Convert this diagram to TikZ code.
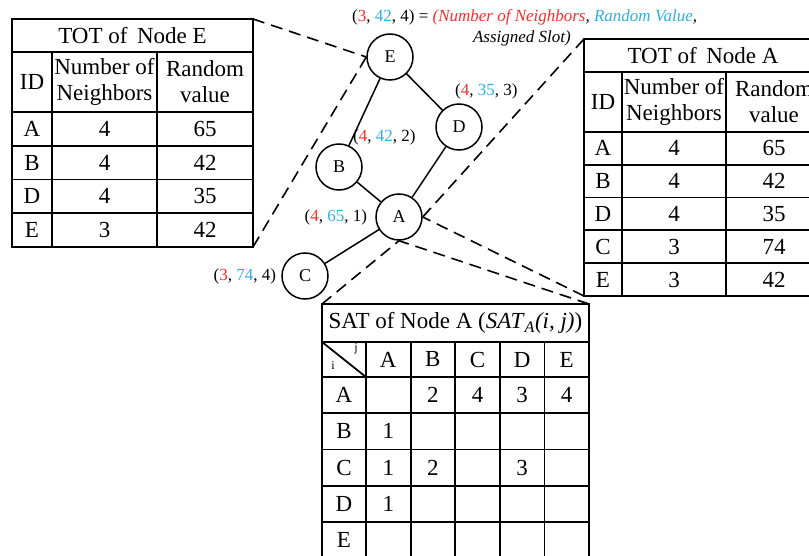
\documentclass[tikz,border=0pt]{standalone}
\usepackage{fontspec}
\setmainfont{Liberation Serif}
\definecolor{nbred}{HTML}{FF2B2B}
\definecolor{rvblue}{HTML}{2EAFE6}
\usetikzlibrary{positioning}
\newcommand{\nbval}[1]{\textcolor{nbred}{#1}}
\newcommand{\rvval}[1]{\textcolor{rvblue}{#1}}

\begin{document}
\begin{tikzpicture}[x=1pt, y=-1pt,
  grid/.style={line width=1.8pt},
  cell/.style={inner sep=0pt, align=center, font=\fontsize{23}{26}\selectfont},
  tiny cell/.style={inner sep=0pt, font=\fontsize{12}{14}\selectfont},
  vert/.style={circle, draw, line width=1.5pt, minimum size=46pt, inner sep=0pt,
               font=\fontsize{18}{20}\selectfont},
  tag/.style={inner sep=0pt, font=\fontsize{17}{20}\selectfont},
  link/.style={line width=1.5pt},
  zoomline/.style={line width=1.6pt, dash pattern=on 12pt off 7pt},
]
\useasboundingbox (0,0) rectangle (809,556);

% TOT of node E
\coordinate (te-ne) at (253,19);
\coordinate (te-se) at (253,247);
\draw[grid] (12,19) rectangle (te-se);
\foreach \y in {52,112,145.75,179.5,213.25} \draw[grid] (12,\y) -- (253,\y);
\foreach \x in {52,157} \draw[grid] (\x,52) -- (\x,247);
\node[cell] (te-title) at (132.5,35.5) {TOT of\, Node E};
\node[cell] (te-hid) at (32,82) {ID};
\node[cell] (te-hnb) at (104.5,82) {Number of\\Neighbors};
\node[cell] (te-hrv) at (205,82) {Random\\value};
\foreach \id/\n/\v [count=\r] in {A/4/65, B/4/42, D/4/35, E/3/42} {
  \node[cell] (te-id\r) at (32,{112+33.75*(\r-0.5)}) {\id};
  \node[cell] (te-nb\r) at (104.5,{112+33.75*(\r-0.5)}) {\n};
  \node[cell] (te-rv\r) at (205,{112+33.75*(\r-0.5)}) {\v};
}

% TOT of node A
\coordinate (ta-nw) at (584,39);
\coordinate (ta-sw) at (584,296);
\draw[grid] (ta-nw) rectangle (822,296);
\foreach \y in {72,132,164.8,197.6,230.4,263.2} \draw[grid] (584,\y) -- (822,\y);
\foreach \x in {622,726} \draw[grid] (\x,72) -- (\x,296);
\node[cell] (ta-title) at (703,55.5) {TOT of\, Node A};
\node[cell] (ta-hid) at (603,102) {ID};
\node[cell] (ta-hnb) at (674,102) {Number of\\Neighbors};
\node[cell] (ta-hrv) at (774,102) {Random\\value};
\foreach \id/\n/\v [count=\r] in {A/4/65, B/4/42, D/4/35, C/3/74, E/3/42} {
  \node[cell] (ta-id\r) at (603,{132+32.8*(\r-0.5)}) {\id};
  \node[cell] (ta-nb\r) at (674,{132+32.8*(\r-0.5)}) {\n};
  \node[cell] (ta-rv\r) at (774,{132+32.8*(\r-0.5)}) {\v};
}

% SAT of node A
\coordinate (sat-nw) at (322,304);
\coordinate (sat-ne) at (589,304);
\draw[grid] (sat-nw) rectangle (589,558);
\foreach \y in {342,377,413.2,449.4,485.6,521.8} \draw[grid] (322,\y) -- (589,\y);
\foreach \x in {366,410.6,455.2,499.8,544.4} \draw[grid] (\x,342) -- (\x,558);
\draw[grid] (322,342) -- (366,377);
\node[cell] (sat-title) at (455.5,323)
  {SAT of Node A (\textit{SAT}\textsubscript{\textit{A}}\textit{(i, j)})};
\node[tiny cell] (sat-j) at (356,349) {j};
\node[tiny cell] (sat-i) at (333,366) {i};
\foreach \c [count=\k] in {A,B,C,D,E} {
  \node[cell] (sat-h\k) at ({366+44.6*(\k-0.5)},359.5) {\c};
  \node[cell] (sat-r\k) at (344,{377+36.2*(\k-0.5)}) {\c};
}
\foreach \r/\c/\v in {1/2/2, 1/3/4, 1/4/3, 1/5/4, 2/1/1, 3/1/1, 3/2/2, 3/4/3, 4/1/1}
  \node[cell] (sat-\r-\c) at ({366+44.6*(\c-0.5)},{377+36.2*(\r-0.5)}) {\v};

% network
\node[vert] (E) at (390,57) {E};
\node[vert] (D) at (459,127) {D};
\node[vert] (B) at (339,167) {B};
\node[vert] (A) at (399,217) {A};
\node[vert] (C) at (305,276) {C};

\draw[link] (E) -- (B);
\draw[link] (E) -- (D);
\draw[link] (D) -- (A);
\draw[link] (B) -- (A);
\draw[link] (A) -- (C);

\node[tag, anchor=west] (lab-E) at (352,17)
  {(\nbval{3}, \rvval{42}, 4) = \textit{\nbval{(Number of Neighbors}, \rvval{Random Value},}};
\node[tag, anchor=east] (lab-slot) at (571,38) {\textit{Assigned Slot)}};
\node[tag, anchor=west] (lab-D) at (455,91) {(\nbval{4}, \rvval{35}, 3)};
\node[tag, anchor=west] (lab-B) at (353,137) {(\nbval{4}, \rvval{42}, 2)};
\node[tag, left=8pt of A] (lab-A) {(\nbval{4}, \rvval{65}, 1)};
\node[tag, left=5pt of C] (lab-C) {(\nbval{3}, \rvval{74}, 4)};

% zoom lines
\draw[zoomline] (te-ne) -- (E.west);
\draw[zoomline] (te-se) -- (E.west);
\draw[zoomline] (ta-nw) -- (A.east);
\draw[zoomline] (ta-sw) -- (A.east);
\draw[zoomline] (sat-nw) -- (A.south);
\draw[zoomline] (sat-ne) -- (A.south);
\end{tikzpicture}
\end{document}
